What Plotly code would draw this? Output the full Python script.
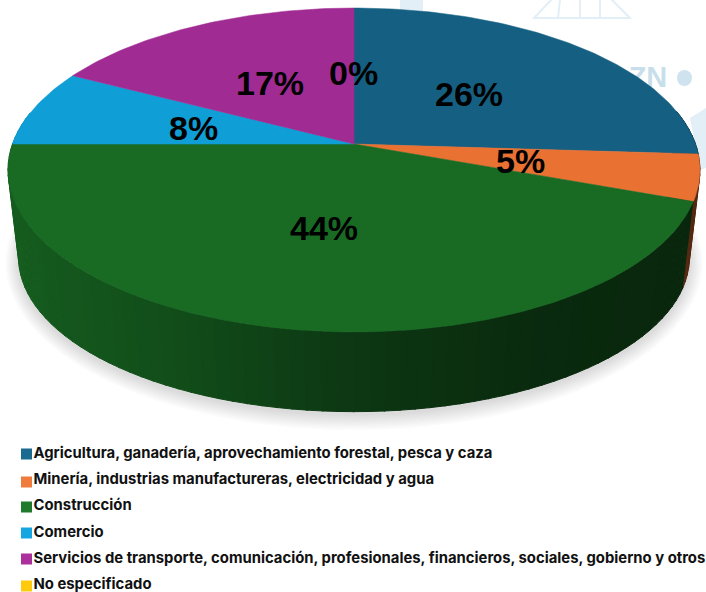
import numpy as np
import plotly.graph_objects as go

# ---- data ----
categories = [
    "Agricultura, ganadería, aprovechamiento forestal, pesca y caza",
    "Minería, industrias manufactureras, electricidad y agua",
    "Construcción",
    "Comercio",
    "Servicios de transporte, comunicación, profesionales, financieros, sociales, gobierno y otros",
    "No especificado",
]
values = [26.0, 4.6, 44.4, 7.7, 17.3, 0.0]

# ---- style ----
colors = ["#156082", "#E97132", "#196B24", "#0F9ED5", "#A02B93", "#FFC000"]
legend_colors = ["#1B6B91", "#EF7B3E", "#1F7A2C", "#15A6E2", "#AB2F9D", "#FFC90E"]
label_x = [469, 520, 324, 193, 270, 353]
label_y = [94, 161, 228, 128, 83, 73]
legend_text_y = [454, 480, 506, 533, 559, 585]
legend_box_y = [454, 482, 507, 533, 559, 586]

W, H = 706, 592
CX = 354
K = 0.1604
TOP = dict(a=341.5, b=157.8, y0=144.0)
BOT = dict(a=331.0, b=150.0, y0=233.0)


def project(theta, d):
    """Perspective projection of a point on the unit circle (clockwise from 12 o'clock)."""
    X, Y = np.sin(theta), np.cos(theta)
    w = 1 + K * Y
    return CX + d["a"] * X / w, d["y0"] - d["b"] * Y / w


def rgb(h):
    return np.array([int(h[i:i + 2], 16) for i in (1, 3, 5)], dtype=float)


def shade(X):
    return float(np.interp(X, [-1, -0.48, -0.3, 0, 0.45, 1], [0.88, 0.74, 0.66, 0.52, 0.40, 0.36]))


fig = go.Figure()

# faint watermark text, behind the pie
fig.add_trace(go.Scatter(x=[648], y=[80], mode="text", text=["<b>ZN</b>"],
                         textfont=dict(family="Liberation Sans", size=29, color="#C8DFEB"),
                         hoverinfo="skip", showlegend=False))

# soft shadow under the pie
t = np.linspace(0, 2 * np.pi, 240)
for e in np.arange(13, 0, -1.5):
    d = dict(a=BOT["a"] + e, b=BOT["b"] + e, y0=BOT["y0"] + 3)
    x, y = project(t, d)
    fig.add_trace(go.Scatter(x=x, y=y, mode="lines", fill="toself", line_width=0,
                             fillcolor="rgba(60,60,60,0.02)", hoverinfo="skip", showlegend=False))

edges = np.cumsum([0] + values) / sum(values) * 2 * np.pi

# side wall: narrow shaded strips, back to front
strips = []
for i, v in enumerate(values):
    if v == 0:
        continue
    n = max(2, int(v * 1.6))
    tt = np.linspace(edges[i], edges[i + 1], n + 1)
    for a0, a1 in zip(tt[:-1], tt[1:]):
        if np.cos((a0 + a1) / 2) < 0.2:
            strips.append((a0, a1, i))
strips.sort(key=lambda s: -np.cos((s[0] + s[1]) / 2))
for a0, a1, i in strips:
    tt = np.array([a0, a1 + 0.004])
    xt, yt = project(tt, TOP)
    xb, yb = project(tt[::-1], BOT)
    c = rgb(colors[i]) * shade(np.sin((a0 + a1) / 2))
    col = "rgb(%d,%d,%d)" % tuple(c)
    fig.add_trace(go.Scatter(x=list(xt) + list(xb), y=list(yt) + list(yb), mode="lines",
                             fill="toself", fillcolor=col, line=dict(width=1, color=col),
                             hoverinfo="skip", showlegend=False))

# top face
for i, v in enumerate(values):
    if v == 0:
        continue
    tt = np.linspace(edges[i], edges[i + 1], max(8, int(v * 4)))
    x, y = project(tt, TOP)
    fig.add_trace(go.Scatter(x=[CX] + list(x) + [CX], y=[TOP["y0"]] + list(y) + [TOP["y0"]],
                             mode="lines", fill="toself", fillcolor=colors[i],
                             line=dict(width=0.5, color=colors[i]),
                             name=categories[i], hoverinfo="skip", showlegend=False))

# legend
fig.add_trace(go.Scatter(x=[26.5] * 6, y=legend_box_y, mode="markers",
                         marker=dict(symbol="square", size=11, color=legend_colors),
                         hoverinfo="skip", showlegend=False, cliponaxis=False))
fig.add_trace(go.Scatter(x=[33.5] * 6, y=legend_text_y, mode="text", text=categories,
                         textposition="middle right",
                         textfont=dict(family="Inter", size=14.85, color="#111111", weight=700),
                         hoverinfo="skip", showlegend=False, cliponaxis=False))

# percentage labels
for v, lx, ly in zip(values, label_x, label_y):
    fig.add_annotation(x=lx, y=ly, text=f"{v:.0f}%", showarrow=False, xanchor="center", yanchor="middle",
                       font=dict(family="Liberation Sans", size=34, color="#000000", weight=700))

# faint watermark behind the chart
wm = "#E3EFF6"
shapes = [
    dict(type="rect", x0=400, x1=423, y0=0, y1=18, fillcolor=wm, line_width=0, layer="below"),
    dict(type="path", path="M534,18 L630,18 L610,-2 L553,-2 Z", line=dict(color=wm, width=2), layer="below"),
    dict(type="path", path="M600,0 L600,18 M580,0 L580,18 M560,0 L558,18", line=dict(color=wm, width=2), layer="below"),
    dict(type="circle", x0=677, x1=692, y0=70, y1=86, fillcolor="#CFE3EE", line_width=0, layer="below"),
    dict(type="path", path="M706,108 L690,118 L700,170 L706,168 Z", fillcolor=wm, line_width=0, layer="below"),
]

fig.update_layout(
    width=W, height=H, margin=dict(l=0, r=0, t=0, b=0),
    paper_bgcolor="white", plot_bgcolor="white", showlegend=False, shapes=shapes,
    xaxis=dict(range=[0, W], visible=False, fixedrange=True),
    yaxis=dict(range=[H, 0], visible=False, fixedrange=True),
)
fig.write_html("out.html", config={"displayModeBar": False},
               post_script="document.body.style.margin='0';document.body.style.overflow='hidden';")
